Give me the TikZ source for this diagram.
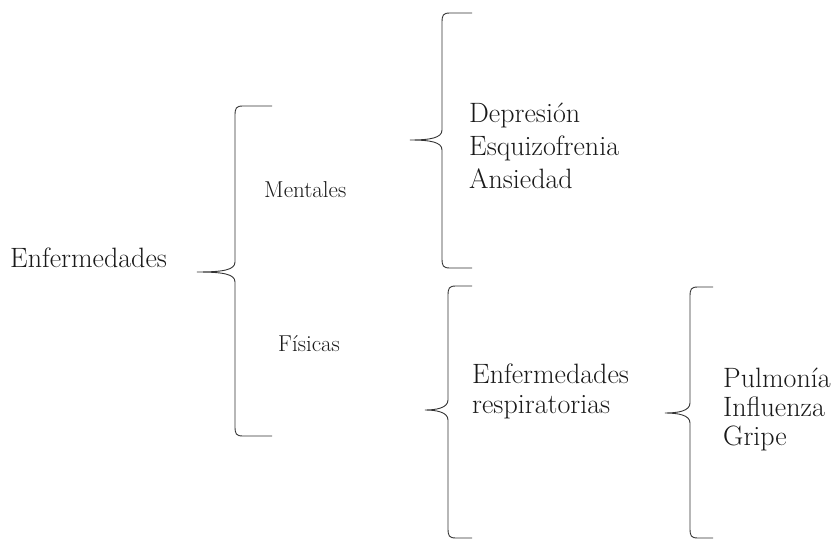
\documentclass[tikz,border=0pt]{standalone}
\begin{document}
\begin{tikzpicture}[x=1pt,y=-1pt,
  brace/.style={draw=black!80,line width=0.9pt},
  big/.style={inner sep=0pt,anchor=base west,text=black!90,font=\fontsize{28}{32}\selectfont},
  small/.style={inner sep=0pt,anchor=base west,text=black!90,font=\fontsize{23}{27}\selectfont}]
\useasboundingbox (0,0) rectangle (831,543);
% brace: #1 tip x, #2 vertical x, #3 end x, #4 top y, #5 mid y, #6 bottom y
\newcommand\drawmybrace[6]{%
  \draw[brace] (#3,#4) -- ({#2+8},#4) .. controls ({#2+1},#4) and (#2,{#4+2}) .. (#2,{#4+10})
    -- (#2,{#5-10}) .. controls (#2,{#5-2}) and ({#2-12},#5) .. (#1,#5)
    .. controls ({#2-12},#5) and (#2,{#5+2}) .. (#2,{#5+10})
    -- (#2,{#6-10}) .. controls (#2,{#6-2}) and ({#2+1},#6) .. ({#2+8},#6) -- (#3,#6);}
\drawmybrace{197}{235}{272}{106}{272}{436}
\drawmybrace{410}{442}{472}{13}{140}{268}
\drawmybrace{425}{448}{472}{286}{410}{538}
\drawmybrace{665}{690}{713}{287}{413}{538}

\node[big] (enf) at (10,267) {Enfermedades};
\node[small] (ment) at (264,197) {Mentales};
\node[small] (fis) at (278,351) {Físicas};
\node[big] (dep) at (469,122) {Depresión};
\node[big] (esq) at (469,155) {Esquizofrenia};
\node[big] (ans) at (469,188) {Ansiedad};
\node[big] (enfr) at (472,383) {Enfermedades};
\node[big] (resp) at (472,413) {respiratorias};
\node[big] (pul) at (723,387) {Pulmonía};
\node[big] (inf) at (723,416) {Influenza};
\node[big] (gri) at (723,445) {Gripe};
\end{tikzpicture}
\end{document}
